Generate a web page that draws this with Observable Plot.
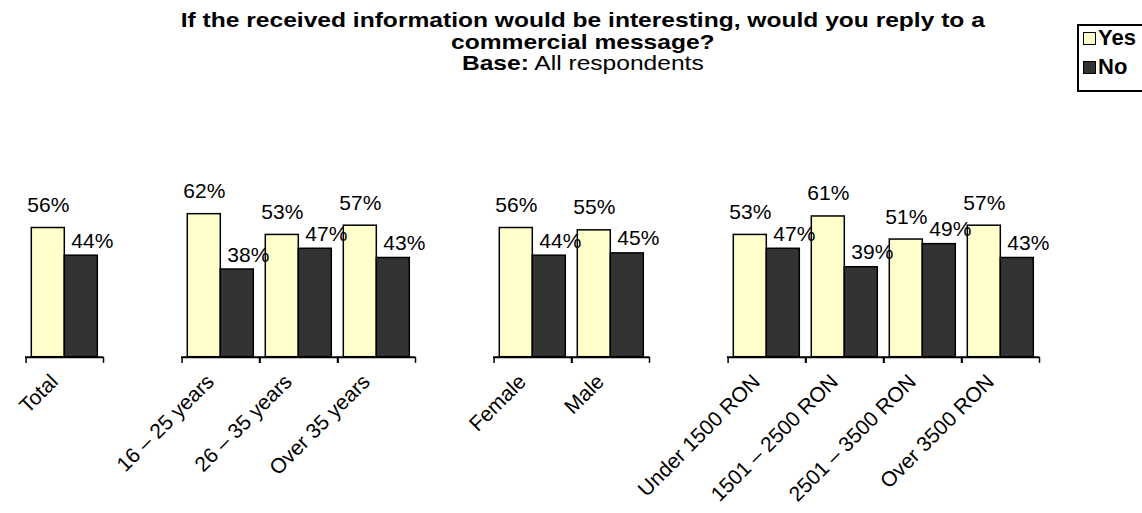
<!DOCTYPE html>
<html>
<head>
<meta charset="utf-8">
<script src="https://cdn.jsdelivr.net/npm/d3@7"></script>
<script src="https://cdn.jsdelivr.net/npm/@observablehq/plot@0.6"></script>
<style>
  html, body { margin: 0; padding: 0; background: #fff; }
  body { width: 1142px; height: 513px; overflow: hidden; position: relative; font-family: "Liberation Sans", Arial, sans-serif; color: #000; }
  #title { box-sizing: border-box; height: 80px; padding-top: 9px; padding-left: 24px; text-align: center; font-size: 21px; line-height: 21.5px; transform: scaleX(1.17); transform-origin: 584px 0; }
  #title .t { font-weight: bold; }
  #legend { position: absolute; left: 1077px; top: 24px; width: 80px; height: 68px; border: 2px solid #000; box-sizing: border-box; font-size: 22px; font-weight: bold; }
  #legend .item { position: absolute; left: 4px; display: flex; align-items: center; height: 24px; }
  #legend .sw { width: 11px; height: 11px; border: 1.5px solid #000; margin-right: 2px; }
</style>
</head>
<body>
<div id="title">
  <div class="t">If the received information would be interesting, would you reply to a<br>commercial message?</div>
  <div><b>Base:</b> All respondents</div>
</div>
<div id="legend"></div>
<div id="chart"></div>
<script>
const categories = ["Total", "gap1", "16 – 25 years", "26 – 35 years", "Over 35 years", "gap2", "Female", "Male", "gap3", "Under 1500 RON", "1501 – 2500 RON", "2501 – 3500 RON", "Over 3500 RON"];
const yesValues = [56, null, 62, 53, 57, null, 56, 55, null, 53, 61, 51, 57];
const noValues  = [44, null, 38, 47, 43, null, 44, 45, null, 47, 39, 49, 43];
const seriesNames = ["Yes", "No"];
const seriesColors = ["#FFFFCC", "#333333"];

const data = [];
categories.forEach((c, i) => {
  if (yesValues[i] != null) data.push({cat: c, series: "Yes", value: yesValues[i]});
  if (noValues[i] != null) data.push({cat: c, series: "No", value: noValues[i]});
});

const label = d => d.startsWith("gap") ? "" : d;

const chart = Plot.plot({
  width: 1142,
  height: 433,
  marginLeft: 22.7,
  marginRight: 99.7,
  marginTop: 46,
  marginBottom: 156.3,
  style: {fontFamily: "'Liberation Sans', Arial, sans-serif", color: "#000", background: "#fff"},
  fx: {domain: categories, padding: 0, label: null},
  x: {domain: seriesNames, paddingInner: 0, paddingOuter: 0.1534, axis: null},
  y: {domain: [0, 100], axis: null},
  color: {domain: seriesNames, range: seriesColors},
  marks: [
    Plot.barY(data, {fx: "cat", x: "series", y: "value", fill: "series", stroke: "#000", strokeWidth: 1.5}),
    Plot.ruleY([0], {stroke: "#000", strokeWidth: 2}),
    Plot.ruleX(["Yes"], {x: d => d, y1: 0, y2: -2.7, dx: -22.2, stroke: "#000", strokeWidth: 1.5}),
    Plot.ruleX(["No"], {x: d => d, y1: 0, y2: -2.7, dx: 22.2, stroke: "#000", strokeWidth: 1.5}),
    Plot.text(data.filter(d => d.series === "Yes"), {fx: "cat", x: "series", y: "value", text: d => d.value + "%", lineAnchor: "bottom", dy: -16, fontSize: 21, fill: "#000"}),
    Plot.text(data.filter(d => d.series === "No"), {fx: "cat", x: "series", y: "value", text: d => d.value + "%", lineAnchor: "bottom", dy: -8, dx: 11, fontSize: 21, fill: "#000"}),
    Plot.axisFx({anchor: "bottom", tickSize: 0, tickPadding: 21, tickRotate: -45, tickFormat: label, fontSize: 21, label: null, dx: -10, dy: 0})
  ]
});
document.getElementById("chart").appendChild(chart);

const legend = document.getElementById("legend");
seriesNames.forEach((s, i) => {
  const item = document.createElement("div");
  item.className = "item";
  item.style.top = (0 + i * 29) + "px";
  const sw = document.createElement("span");
  sw.className = "sw";
  sw.style.background = seriesColors[i];
  item.appendChild(sw);
  item.appendChild(document.createTextNode(s));
  legend.appendChild(item);
});
</script>
</body>
</html>
